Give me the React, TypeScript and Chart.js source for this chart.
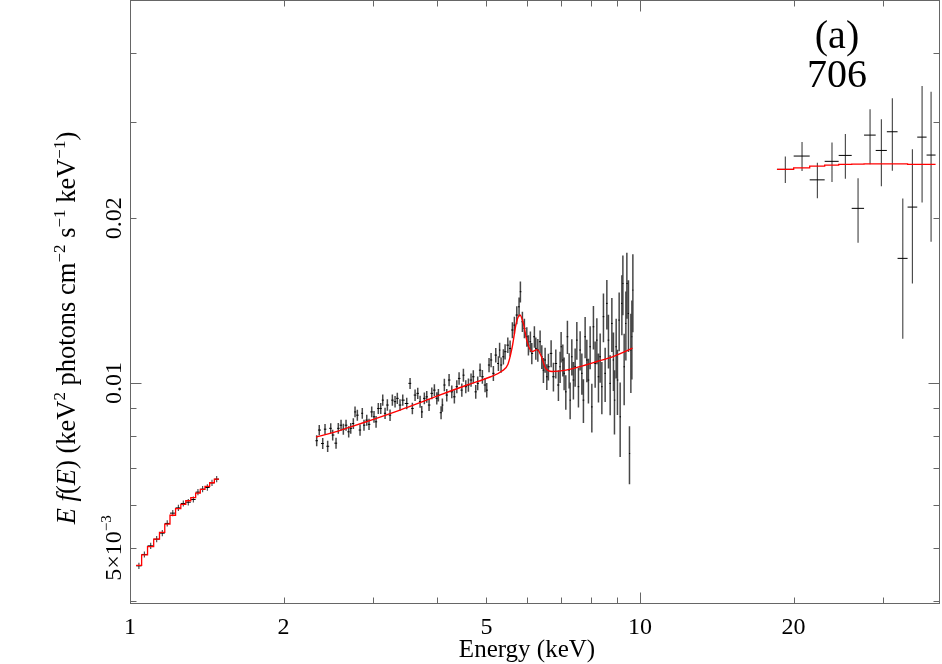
import React, { useEffect, useRef } from 'react';
import { Chart, registerables } from 'chart.js';

Chart.register(...registerables);

// ---------------- data ----------------
// soft band (1 - 1.5 keV)
const SOFT_E = [1.041, 1.067, 1.098, 1.128, 1.157, 1.183, 1.213, 1.244, 1.272, 1.301, 1.331, 1.359, 1.388, 1.418, 1.448, 1.479];
const SOFT_V = [0.004641, 0.004868, 0.005047, 0.005191, 0.005324, 0.005546, 0.005791, 0.00592, 0.006031, 0.006063, 0.006133, 0.006325, 0.006405, 0.00645, 0.006576, 0.006679];
const SOFT_ERR = [0.00006, 0.00006, 0.000065, 0.000067, 0.00007, 0.000072, 0.000075, 0.000077, 0.000078, 0.00008, 0.00008, 0.000082, 0.000083, 0.000085, 0.000086, 0.000088];
const SOFT_MODEL = [0.00465, 0.00486, 0.00503, 0.00519, 0.00534, 0.00553, 0.00574, 0.0059, 0.00601, 0.0061, 0.00618, 0.0063, 0.0064, 0.00648, 0.00658, 0.00668];

// middle band (2.3 - 9.7 keV)
const MID_E = [
  2.323, 2.35, 2.387, 2.412, 2.441, 2.475, 2.497, 2.535, 2.561, 2.593,
  2.62, 2.652, 2.684, 2.709, 2.741, 2.762, 2.791, 2.825, 2.854, 2.876,
  2.912, 2.942, 2.978, 3.009, 3.037, 3.068, 3.102, 3.13, 3.163, 3.196,
  3.235, 3.269, 3.309, 3.343, 3.384, 3.426, 3.488, 3.541, 3.578, 3.622,
  3.666, 3.705, 3.733, 3.777, 3.818, 3.858, 3.906, 3.952, 3.995, 4.024,
  4.073, 4.097, 4.134, 4.179, 4.223, 4.275, 4.325, 4.373, 4.418, 4.473,
  4.505, 4.554, 4.608, 4.663, 4.711, 4.763, 4.806, 4.857, 4.908, 4.968,
  5.006, 5.058, 5.105, 5.158, 5.214, 5.276, 5.305, 5.34, 5.396, 5.438,
  5.505, 5.562, 5.62, 5.671, 5.733, 5.792, 5.827, 5.88, 5.933, 5.998,
  6.042, 6.096, 6.135, 6.207, 6.247, 6.304, 6.369, 6.418, 6.465, 6.515,
  6.565, 6.613, 6.694, 6.764, 6.837, 6.918, 6.972, 7.003, 7.057, 7.099,
  7.153, 7.205, 7.261, 7.294, 7.35, 7.403, 7.461, 7.518, 7.573, 7.631,
  7.69, 7.745, 7.805, 7.865, 7.922, 7.984, 8.045, 8.103, 8.166, 8.229,
  8.289, 8.353, 8.417, 8.478, 8.543, 8.609, 8.672, 8.739, 8.806, 8.87,
  8.91, 8.979, 9.031, 9.101, 9.142, 9.213, 9.255, 9.309, 9.381, 9.423,
  9.492, 9.535, 9.595, 9.639, 9.682,
];
const MID_V = [
  0.00785, 0.00821, 0.00776, 0.00824, 0.00767, 0.00827, 0.00804, 0.00777, 0.00827, 0.00838,
  0.00824, 0.00838, 0.00815, 0.00827, 0.00844, 0.00886, 0.00874, 0.00821, 0.00881, 0.00838,
  0.00856, 0.00841, 0.00886, 0.00868, 0.0085, 0.00899, 0.00899, 0.00931, 0.00881, 0.00912,
  0.00874, 0.00931, 0.00925, 0.00938, 0.00912, 0.00931, 0.00918, 0.00999, 0.00899, 0.00951,
  0.00958, 0.00925, 0.00886, 0.00938, 0.00944, 0.00912, 0.00958, 0.00971, 0.00938, 0.00951,
  0.00883, 0.00912, 0.00992, 0.00951, 0.01013, 0.00964, 0.00944, 0.00985, 0.0102, 0.00971,
  0.01034, 0.00985, 0.00992, 0.01013, 0.01027, 0.00964, 0.00999, 0.01056, 0.01027, 0.00992,
  0.00971, 0.01079, 0.01102, 0.01042, 0.01125, 0.01086, 0.01149, 0.01079, 0.01117, 0.01141,
  0.01173, 0.01157, 0.0125, 0.01276, 0.01331, 0.01378, 0.01468, 0.01294, 0.01259, 0.01215,
  0.01173, 0.0119, 0.01133, 0.01215, 0.01157, 0.01149, 0.0119, 0.01117, 0.01056, 0.01102,
  0.01027, 0.01071, 0.01133, 0.01027, 0.01086, 0.00992, 0.01071, 0.01165, 0.01102, 0.01042,
  0.00964, 0.01215, 0.01056, 0.00931, 0.01117, 0.01013, 0.01071, 0.01198, 0.00985, 0.01149,
  0.01042, 0.00931, 0.01215, 0.01102, 0.01013, 0.01165, 0.00905, 0.01267, 0.01086, 0.01198,
  0.01027, 0.01117, 0.00985, 0.01322, 0.01042, 0.01398, 0.01198, 0.00999, 0.01285, 0.01102,
  0.00931, 0.01165, 0.01013, 0.01303, 0.00868, 0.01398, 0.0152, 0.01071, 0.01285, 0.0152,
  0.0134, 0.00744, 0.01149, 0.01215, 0.01478,
];
const MID_ERR = [
  0.00018, 0.00018, 0.00018, 0.00018, 0.00018, 0.00018, 0.00018, 0.00018, 0.00019, 0.00019,
  0.00019, 0.00019, 0.00019, 0.00019, 0.00019, 0.0002, 0.0002, 0.00019, 0.0002, 0.00019,
  0.0002, 0.0002, 0.0002, 0.00021, 0.00021, 0.00021, 0.00021, 0.00022, 0.00021, 0.00022,
  0.00021, 0.00022, 0.00022, 0.00022, 0.00022, 0.00022, 0.00022, 0.00023, 0.00022, 0.00023,
  0.00023, 0.00023, 0.00022, 0.00023, 0.00023, 0.00023, 0.00024, 0.00024, 0.00024, 0.00025,
  0.00024, 0.00025, 0.00026, 0.00025, 0.00026, 0.00026, 0.00026, 0.00027, 0.00027, 0.00027,
  0.00028, 0.00027, 0.00028, 0.00028, 0.00029, 0.00028, 0.00029, 0.0003, 0.0003, 0.0003,
  0.0003, 0.00032, 0.00033, 0.00033, 0.00034, 0.00034, 0.00036, 0.00035, 0.00036, 0.00037,
  0.00038, 0.00039, 0.00042, 0.00045, 0.0005, 0.00055, 0.00065, 0.00055, 0.00052, 0.0005,
  0.0005, 0.00052, 0.00051, 0.00055, 0.00054, 0.00055, 0.00058, 0.00056, 0.00055, 0.00058,
  0.00056, 0.0006, 0.00064, 0.00062, 0.00066, 0.00064, 0.0007, 0.00075, 0.00074, 0.00072,
  0.0007, 0.00085, 0.00078, 0.00072, 0.00085, 0.0008, 0.00086, 0.00095, 0.00082, 0.00095,
  0.0009, 0.00085, 0.00105, 0.00098, 0.00095, 0.00105, 0.00092, 0.00115, 0.00105, 0.00115,
  0.00105, 0.00115, 0.00108, 0.00135, 0.00118, 0.00145, 0.00135, 0.00125, 0.00145, 0.00135,
  0.00125, 0.00145, 0.00138, 0.0016, 0.00135, 0.00175, 0.0019, 0.0016, 0.00185, 0.0021,
  0.002, 0.0009, 0.0019, 0.002, 0.0024,
];
const MID_MODEL_E = [2.316, 2.5, 2.7, 2.915, 3.383, 3.928, 4.579, 5.08, 5.362, 5.509, 5.61, 5.725, 5.817, 5.91, 6.003, 6.14, 6.281, 6.411, 6.527, 6.722, 7.16, 7.628, 8.236, 8.853, 9.667];
const MID_MODEL_V = [0.00797, 0.00812, 0.00831, 0.00851, 0.00893, 0.00941, 0.00992, 0.01026, 0.01052, 0.01083, 0.01158, 0.01292, 0.01331, 0.01281, 0.01193, 0.01142, 0.01151, 0.01116, 0.01065, 0.0105, 0.01056, 0.01072, 0.01095, 0.01118, 0.01158];

// hard band (19 - 38 keV)
const HARD_E = [19.27, 20.78, 22.27, 23.79, 25.27, 26.76, 28.25, 29.73, 31.24, 32.75, 34.2, 35.73, 37.21];
const HARD_V = [0.02455, 0.02596, 0.02349, 0.02539, 0.02603, 0.02084, 0.02835, 0.02658, 0.02875, 0.01689, 0.02095, 0.02811, 0.02607];
const HARD_ERR = [0.00137, 0.00158, 0.00175, 0.0021, 0.00244, 0.0028, 0.00326, 0.00372, 0.00434, 0.00484, 0.00576, 0.00675, 0.00795];
const HARD_MODEL = [0.02455, 0.02471, 0.02489, 0.025, 0.02507, 0.0251, 0.02513, 0.02513, 0.02513, 0.02513, 0.02507, 0.02507, 0.02507];

// axes
const X_MIN = 1;
const X_MAX = 38.74;
const Y_MIN = 0.00397;
const Y_MAX = 0.0498;
const X_LABELS = [1, 2, 5, 10, 20];
const X_MINOR = [2, 3, 4, 5, 6, 7, 8, 9, 20, 30];
const X_MAJOR = [1, 10];
const Y_LABELS = [0.005, 0.01, 0.02];
const Y_MINOR = [0.004, 0.005, 0.006, 0.007, 0.008, 0.009, 0.02, 0.03, 0.04];
const Y_MAJOR = [0.01];
const X_TITLE = 'Energy (keV)';
const PANEL = '(a)';
const OBS_ID = '706';

const FONT = '"Liberation Serif", "Times New Roman", serif';

// ---------------- helpers (build library data from arrays) ----------------
function edges(E: number[]) {
  const lo: number[] = [];
  const hi: number[] = [];
  for (let i = 0; i < E.length; i++) {
    const prev = i > 0 ? Math.sqrt(E[i - 1] * E[i]) : E[0] / Math.sqrt(E[1] / E[0]);
    const next = i < E.length - 1 ? Math.sqrt(E[i] * E[i + 1]) : E[i] * Math.sqrt(E[i] / E[i - 1]);
    lo.push(prev);
    hi.push(next);
  }
  return { lo, hi };
}

function yBars(E: number[], V: number[], ERR: number[]) {
  const pts: any[] = [];
  for (let i = 0; i < E.length; i++) {
    pts.push({ x: E[i], y: V[i] - ERR[i] }, { x: E[i], y: V[i] + ERR[i] }, { x: E[i], y: null });
  }
  return pts;
}

function xBars(E: number[], V: number[]) {
  const { lo, hi } = edges(E);
  const pts: any[] = [];
  for (let i = 0; i < E.length; i++) {
    pts.push({ x: lo[i], y: V[i] }, { x: hi[i], y: V[i] }, { x: hi[i], y: null });
  }
  return pts;
}

function stepModel(E: number[], M: number[]) {
  const { lo, hi } = edges(E);
  const pts: any[] = [];
  for (let i = 0; i < E.length; i++) {
    pts.push({ x: lo[i], y: M[i] }, { x: hi[i], y: M[i] });
  }
  return pts;
}

type Part = { t: string; it?: boolean; sup?: boolean };

function drawRich(ctx: CanvasRenderingContext2D, parts: Part[], size: number, supSize: number, supRise: number) {
  const fontFor = (p: Part) => `${p.it ? 'italic ' : ''}${p.sup ? supSize : size}px ${FONT}`;
  let total = 0;
  const widths = parts.map((p) => {
    ctx.font = fontFor(p);
    const w = ctx.measureText(p.t).width;
    total += w;
    return w;
  });
  let x = -total / 2;
  ctx.textAlign = 'left';
  ctx.textBaseline = 'alphabetic';
  parts.forEach((p, i) => {
    ctx.font = fontFor(p);
    ctx.fillText(p.t, x, p.sup ? -supRise : 0);
    x += widths[i];
  });
}

const Y_TITLE: Part[] = [
  { t: 'E', it: true },
  { t: ' ' },
  { t: 'f', it: true },
  { t: '(' },
  { t: 'E', it: true },
  { t: ') (keV' },
  { t: '2', sup: true },
  { t: ' photons cm' },
  { t: '\u22122', sup: true },
  { t: ' s' },
  { t: '\u22121', sup: true },
  { t: ' keV' },
  { t: '\u22121', sup: true },
  { t: ')' },
];

const framePlugin = {
  id: 'frame',
  afterDraw(chart: any) {
    const { ctx, chartArea: a } = chart;
    const xs = chart.scales.x;
    const ys = chart.scales.y;
    ctx.save();
    ctx.strokeStyle = '#666';
    ctx.lineWidth = 1;
    ctx.strokeRect(Math.round(a.left) + 0.5, Math.round(a.top) - 0.5, Math.round(a.right - a.left) - 1, Math.round(a.bottom - a.top) + 1);
    const L = Math.round(a.left) + 0.5;
    const R = Math.round(a.right) - 0.5;
    const T = Math.round(a.top) - 0.5;
    const B = Math.round(a.bottom) + 0.5;
    ctx.beginPath();
    const xt = (v: number, len: number) => {
      const px = Math.round(xs.getPixelForValue(v)) + 0.5;
      ctx.moveTo(px, B);
      ctx.lineTo(px, B - len);
      ctx.moveTo(px, T);
      ctx.lineTo(px, T + len);
    };
    const yt = (v: number, len: number) => {
      const py = Math.round(ys.getPixelForValue(v)) + 0.5;
      ctx.moveTo(L, py);
      ctx.lineTo(L + len, py);
      ctx.moveTo(R, py);
      ctx.lineTo(R - len, py);
    };
    X_MINOR.forEach((v) => xt(v, 6));
    X_MAJOR.forEach((v) => xt(v, 11));
    Y_MINOR.forEach((v) => yt(v, 6));
    Y_MAJOR.forEach((v) => yt(v, 11));
    ctx.stroke();

    ctx.fillStyle = '#000';
    // x tick labels
    ctx.font = `24px ${FONT}`;
    ctx.textAlign = 'center';
    ctx.textBaseline = 'alphabetic';
    X_LABELS.forEach((v) => {
      ctx.fillText(String(v), xs.getPixelForValue(v), 634);
    });
    // x title
    ctx.font = `25px ${FONT}`;
    ctx.fillText(X_TITLE, 527, 657);

    // y tick labels (rotated)
    Y_LABELS.forEach((v) => {
      ctx.save();
      ctx.translate(121, ys.getPixelForValue(v));
      ctx.rotate(-Math.PI / 2);
      if (v < 0.01) {
        drawRich(ctx, [{ t: '5\u00d710' }, { t: '\u22123', sup: true }], 24, 15, 10);
      } else {
        ctx.font = `24px ${FONT}`;
        ctx.textAlign = 'center';
        ctx.textBaseline = 'alphabetic';
        ctx.fillText(String(v), 0, 0);
      }
      ctx.restore();
    });

    // y title
    ctx.save();
    ctx.translate(75, 328);
    ctx.rotate(-Math.PI / 2);
    drawRich(ctx, Y_TITLE, 26.5, 17, 10);
    ctx.restore();

    // panel label
    ctx.font = `40px ${FONT}`;
    ctx.textAlign = 'center';
    ctx.textBaseline = 'alphabetic';
    ctx.fillText(PANEL, 837, 48);
    ctx.fillText(OBS_ID, 837, 87);
    ctx.restore();
  },
};

export default function App() {
  const ref = useRef<HTMLCanvasElement | null>(null);
  useEffect(() => {
    if (!ref.current) return;
    const lineBase = { showLine: true, pointRadius: 0, pointHoverRadius: 0, fill: false, spanGaps: false };
    const chart = new Chart(ref.current, {
      type: 'scatter',
      data: {
        datasets: [
          {
            ...lineBase,
            label: 'model soft',
            data: stepModel(SOFT_E, SOFT_MODEL),
            borderColor: '#ff0000',
            borderWidth: 1.3,
            order: 0,
          },
          {
            ...lineBase,
            label: 'model mid',
            data: MID_MODEL_E.map((e, i) => ({ x: e, y: MID_MODEL_V[i] })),
            borderColor: '#ff0000',
            borderWidth: 1.4,
            cubicInterpolationMode: 'monotone',
            order: 0,
          },
          {
            ...lineBase,
            label: 'model hard',
            data: stepModel(HARD_E, HARD_MODEL),
            borderColor: '#ff0000',
            borderWidth: 1.3,
            order: 0,
          },
          {
            ...lineBase,
            label: 'x bars',
            data: [...xBars(SOFT_E, SOFT_V), ...xBars(MID_E, MID_V), ...xBars(HARD_E, HARD_V)],
            borderColor: '#000',
            borderWidth: 1,
            order: 1,
          },
          {
            ...lineBase,
            label: 'y bars soft+hard',
            data: [...yBars(SOFT_E, SOFT_V, SOFT_ERR), ...yBars(HARD_E, HARD_V, HARD_ERR)],
            borderColor: 'rgba(0,0,0,0.75)',
            borderWidth: 1.1,
            order: 2,
          },
          {
            ...lineBase,
            label: 'y bars mid',
            data: yBars(MID_E, MID_V, MID_ERR),
            borderColor: 'rgba(0,0,0,0.72)',
            borderWidth: 1.5,
            order: 2,
          },
        ] as any,
      },
      options: {
        animation: false,
        responsive: false,
        devicePixelRatio: 1,
        events: [],
        layout: { padding: { left: 130, right: 2, top: 1, bottom: 61 } },
        plugins: { legend: { display: false }, tooltip: { enabled: false } },
        scales: {
          x: { type: 'logarithmic', min: X_MIN, max: X_MAX, bounds: 'data', display: false },
          y: { type: 'logarithmic', min: Y_MIN, max: Y_MAX, bounds: 'data', display: false },
        },
      } as any,
      plugins: [framePlugin],
    });
    return () => chart.destroy();
  }, []);
  return (
    <div style={{ position: 'absolute', left: 0, top: 0, width: 942, height: 664, background: '#fff' }}>
      <canvas ref={ref} width={942} height={664} style={{ display: 'block' }} />
    </div>
  );
}
